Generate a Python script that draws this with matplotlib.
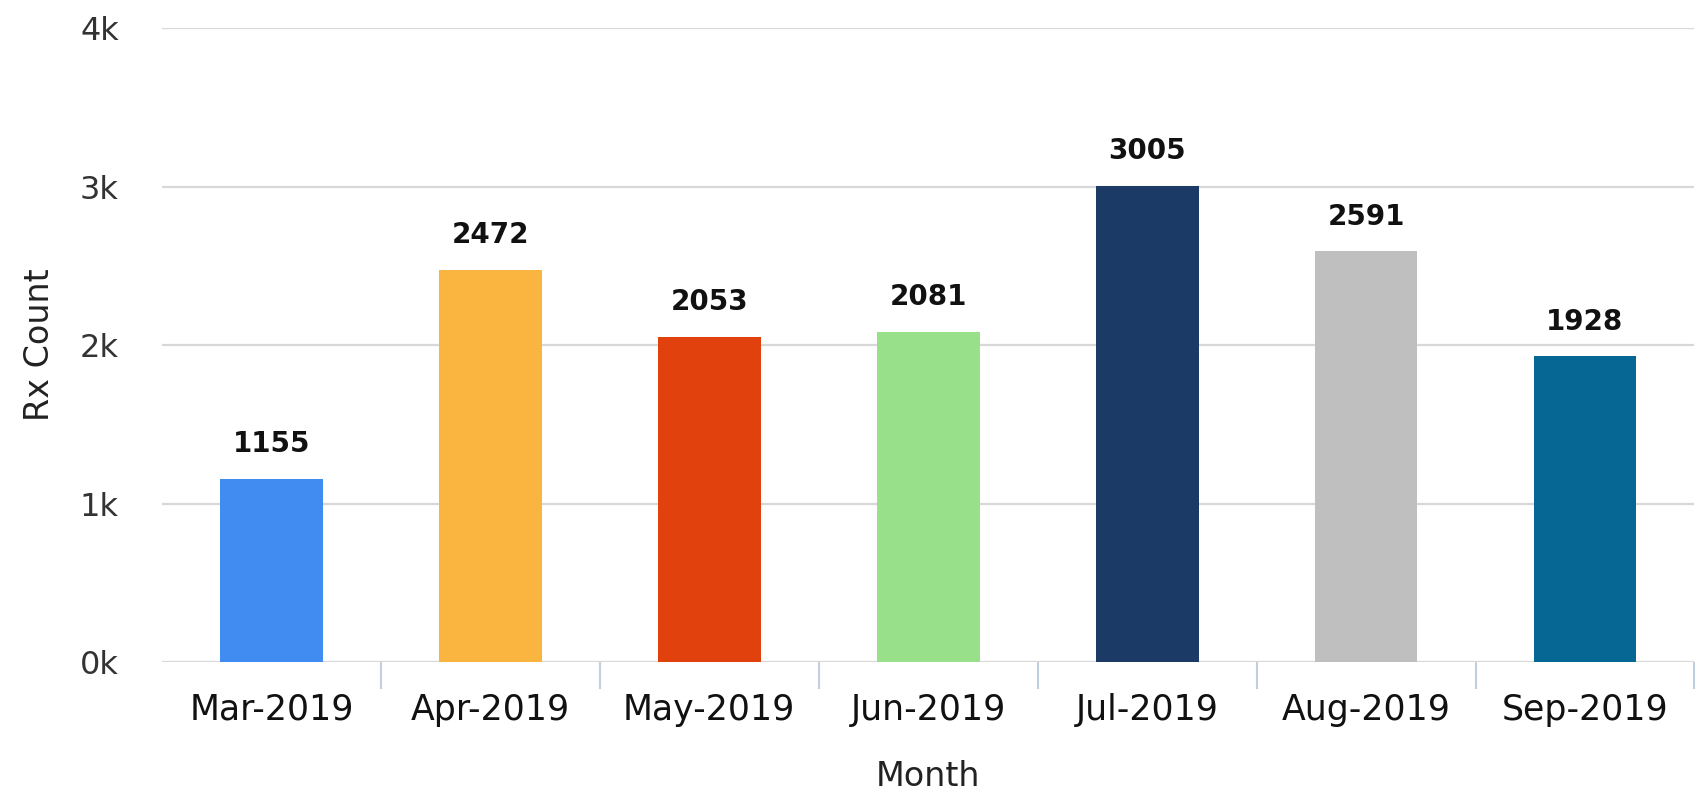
import matplotlib
matplotlib.use("Agg")
import matplotlib.pyplot as plt
import numpy as np

# data
months = ["Mar-2019", "Apr-2019", "May-2019", "Jun-2019", "Jul-2019", "Aug-2019", "Sep-2019"]
rx_count = [1155, 2472, 2053, 2081, 3005, 2591, 1928]
colors = ["#418cf0", "#fab541", "#e1420d", "#98e08a", "#1b3a66", "#bfbfbf", "#066694"]
y_ticks = [0, 1000, 2000, 3000, 4000]
y_tick_labels = ["0k", "1k", "2k", "3k", "4k"]

plt.rcParams['font.family'] = ['DejaVu Sans']

fig = plt.figure(figsize=(16.98, 7.9), dpi=100)
ax = fig.add_axes([0.0954, 0.162, 0.9025, 0.8025])

x = np.arange(len(months))
bars = ax.bar(x, rx_count, width=0.47, color=colors, zorder=3)

# value labels above bars
for xi, v in zip(x, rx_count):
    ax.annotate(str(v), (xi, v), xytext=(0, 15), textcoords='offset points',
                ha='center', va='bottom', fontsize=20, fontweight='bold', color='#111111')

ax.set_xlim(-0.5, 6.5)
ax.set_ylim(0, 4000)
ax.set_yticks(y_ticks)
ax.set_yticklabels(y_tick_labels)
ax.grid(axis='y', color='#d8d8d8', linewidth=1.6, zorder=0)
ax.set_axisbelow(True)

for s in ax.spines.values():
    s.set_visible(False)

ax.set_xticks(x)
ax.set_xticklabels(months)
ax.set_xticks(np.arange(0.5, 7, 1), minor=True)
ax.tick_params(axis='x', which='major', length=0, pad=22, labelsize=25, labelcolor='#111111')
ax.tick_params(axis='x', which='minor', length=19.5, width=1.5, color='#c0d0e0')
ax.tick_params(axis='y', length=0, pad=31, labelsize=23, labelcolor='#333333')

ax.set_xlabel("Month", fontsize=24, color='#222222', labelpad=24)
ax.set_ylabel("Rx Count", fontsize=24, color='#222222', labelpad=17)

fig.savefig("out.png", dpi=100)
